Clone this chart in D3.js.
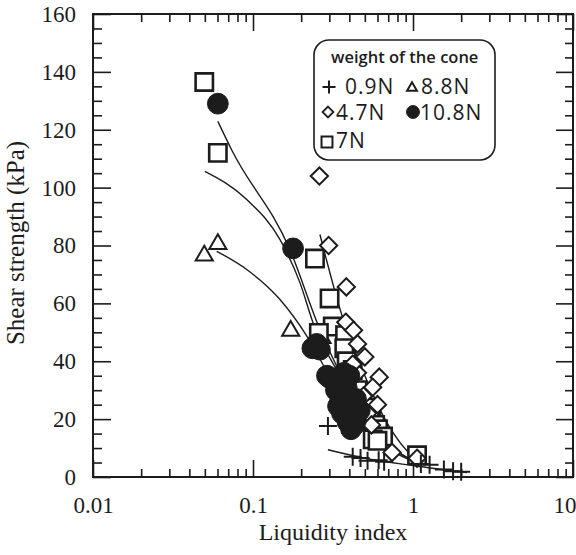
<!DOCTYPE html>
<html><head><meta charset="utf-8">
<script src="https://cdn.jsdelivr.net/npm/d3@7"></script>
<style>
body{margin:0;background:#fff;}
svg{display:block;}
</style></head>
<body>
<svg id="chart" width="576" height="555"></svg>
<script>
// ---- data (liquidity index, shear strength kPa) ----
const plus09 = [[0.294,17.6],[0.42,7.0],[0.47,6.6],[0.52,5.6],[0.61,5.8],[0.66,5.3],[1.12,4.5],[1.27,4.2],[1.56,2.6],[1.78,2.0],[2.0,1.8]];
const diamond47 = [[0.26,104],[0.297,80],[0.383,65.7],[0.38,53.5],[0.425,50.7],[0.45,46],[0.5,41.5],[0.615,34.5],[0.56,31],[0.45,36],[0.42,39],[0.49,28],[0.52,22],[0.55,18],[0.6,25],[0.74,8.5],[1.06,6.5]];
const square7 = [[0.0496,136.5],[0.0603,112],[0.244,75.5],[0.301,61.7],[0.315,52],[0.258,49.8],[0.376,49],[0.372,44.5],[0.385,40],[0.42,37],[0.45,30],[0.48,26],[0.52,24],[0.55,21.5],[0.536,19.5],[0.58,18],[0.605,16.5],[0.65,14],[0.56,13],[0.6,12.5],[1.06,7.5]];
const triangle88 = [[0.0496,76.5],[0.0603,80.5],[0.172,50.5],[0.27,48],[0.4,30],[0.5,21]];
const circle108 = [[0.0603,129],[0.178,79],[0.235,44.5],[0.25,46],[0.262,44],[0.29,35],[0.305,34],[0.316,34],[0.33,30],[0.35,26],[0.363,28],[0.38,24],[0.385,31],[0.40,22],[0.415,22.4],[0.42,20],[0.43,18],[0.44,19.5],[0.465,23],[0.36,33],[0.37,36],[0.40,35],[0.44,27],[0.36,22],[0.39,19],[0.41,16.5],[0.45,24],[0.34,24.5],[0.38,28]];

const fitCircle = [[0.0603,122.9],[0.0736,113],[0.17,78.6],[0.262,51],[0.4,30],[0.6,15],[1.0,5.5]];
const fitSquare = [[0.050,105.6],[0.0914,95.9],[0.1475,82],[0.197,67],[0.237,53.4],[0.35,35],[0.6,15],[1.1,4.5]];
const fitTriangle = [[0.0593,78],[0.0914,71.7],[0.147,61.4],[0.217,48.7],[0.3,35],[0.45,20],[0.7,10],[1.1,4.5]];
const fitDiamond = [[0.262,83.8],[0.366,54.5],[0.5,35],[0.7,18],[1.0,7],[1.2,4]];
const fitPlus = [[0.294,9.4],[0.51,6.4],[1.02,3.9],[2.18,1.5]];

const xTickValues = [0.01,0.1,1,10];
const xTickLabels = ["0.01","0.1","1","10"];
const yTickValues = [0,20,40,60,80,100,120,140,160];
const yTickLabels = ["0","20","40","60","80","100","120","140","160"];
const legendLabels = ["0.9N","8.8N","4.7N","10.8N","7N"];

// ---- layout ----
const W = 576, H = 555;
const m = {left:93, right:3, top:14, bottom:78};
const iw = W - m.left - m.right, ih = H - m.top - m.bottom;
const ink = "#1c1c1c";

const svg = d3.select("#chart");
const g = svg.append("g").attr("transform",`translate(${m.left},${m.top})`);

const x = d3.scaleLog().domain([0.01,10]).range([0,iw]);
const y = d3.scaleLinear().domain([0,160]).range([ih,0]);

const xMinor = [];
[0.01,0.1,1].forEach(d => { for(let k=2;k<=9;k++) xMinor.push(d*k); });
const yMinor = d3.range(0,161,5).filter(v => v%20!==0);

function styleAxis(sel){
  sel.select(".domain").remove();
  sel.selectAll("line").attr("stroke",ink).attr("stroke-width",1.6);
}
const serif = "\"Liberation Serif\",\"Times New Roman\",serif";

// bottom
g.append("g").attr("transform",`translate(0,${ih})`)
  .call(d3.axisBottom(x).tickValues(xMinor).tickSize(-8).tickFormat(""))
  .call(styleAxis);
g.append("g").attr("transform",`translate(0,${ih})`)
  .call(d3.axisBottom(x).tickValues(xTickValues).tickSize(-17).tickPadding(20)
      .tickFormat((d,i)=>xTickLabels[i]))
  .call(styleAxis)
  .call(s=>s.selectAll("text").attr("fill",ink).style("font-family",serif).style("font-size","23px"))
  .call(s=>s.selectAll(".tick").filter(d=>d===10).select("text").attr("text-anchor","end").attr("dx",3));
// top
g.append("g")
  .call(d3.axisTop(x).tickValues(xMinor).tickSize(-8).tickFormat(""))
  .call(styleAxis);
g.append("g")
  .call(d3.axisTop(x).tickValues(xTickValues).tickSize(-17).tickFormat(""))
  .call(styleAxis);
// left
g.append("g")
  .call(d3.axisLeft(y).tickValues(yMinor).tickSize(-9).tickFormat(""))
  .call(styleAxis);
g.append("g")
  .call(d3.axisLeft(y).tickValues(yTickValues).tickSize(-18).tickPadding(17)
      .tickFormat((d,i)=>yTickLabels[i]))
  .call(styleAxis)
  .call(s=>s.selectAll("text").attr("fill",ink).style("font-family",serif).style("font-size","23px"));
// right
g.append("g").attr("transform",`translate(${iw},0)`)
  .call(d3.axisRight(y).tickValues(yMinor).tickSize(-8).tickFormat(""))
  .call(styleAxis);
g.append("g").attr("transform",`translate(${iw},0)`)
  .call(d3.axisRight(y).tickValues(yTickValues).tickSize(-17).tickFormat(""))
  .call(styleAxis);

// frame
g.append("rect").attr("x",0).attr("y",0).attr("width",iw).attr("height",ih)
  .attr("fill","none").attr("stroke",ink).attr("stroke-width",2);

// axis titles
svg.append("text").attr("x",333).attr("y",540)
  .attr("text-anchor","middle").attr("fill",ink)
  .style("font-family",serif).style("font-size","24px").text("Liquidity index");
svg.append("text").attr("transform",`translate(24,243) rotate(-90)`)
  .attr("text-anchor","middle").attr("fill",ink)
  .style("font-family",serif).style("font-size","25px").text("Shear strength (kPa)");

// fitted curves
const line = d3.line().x(d=>x(d[0])).y(d=>y(d[1])).curve(d3.curveMonotoneX);
[fitCircle,fitSquare,fitTriangle,fitDiamond,fitPlus].forEach(arr=>{
  g.append("path").datum(arr).attr("d",line).attr("fill","none")
   .attr("stroke",ink).attr("stroke-width",1.4);
});

// markers
const symSquare = d3.symbol().type(d3.symbolSquare).size(300);
const symDiamond = d3.symbol().type(d3.symbolDiamond2).size(190);
const symTri = d3.symbol().type(d3.symbolTriangle2).size(210);
const symCircle = d3.symbol().type(d3.symbolCircle).size(340);
function plusPath(s){ return `M${-s},0H${s}M0,${-s}V${s}`; }

function drawPts(data, path, fill, sw){
  g.append("g").selectAll("path").data(data).join("path")
    .attr("transform",d=>`translate(${x(d[0])},${y(d[1])})`)
    .attr("d",path).attr("fill",fill).attr("stroke",ink).attr("stroke-width",sw);
}
drawPts(triangle88, symTri(), "white", 2);
drawPts(square7, symSquare(), "white", 2.6);
drawPts(diamond47, symDiamond(), "white", 2);
drawPts(circle108, symCircle(), ink, 1);
drawPts(plus09, plusPath(9), "none", 2);

// legend
const lg = svg.append("g");
lg.append("rect").attr("x",314).attr("y",40).attr("width",181).attr("height",120)
  .attr("rx",15).attr("fill","white").attr("stroke",ink).attr("stroke-width",1.6);
const sans = "\"Open Sans\",\"Noto Sans\",sans-serif";
lg.append("text").attr("x",331).attr("y",63).attr("fill",ink)
  .style("font-family",sans).style("font-size","16.5px").style("font-weight","600")
  .text("weight of the cone");
const legendItems = [
  {p:plusPath(6.5), fill:"none", sw:2, mx:329, my:87, tx:345, ty:94},
  {p:d3.symbol().type(d3.symbolTriangle2).size(70)(), fill:"white", sw:2, mx:412, my:88, tx:421, ty:94},
  {p:d3.symbol().type(d3.symbolDiamond2).size(75)(), fill:"white", sw:1.8, mx:328, my:112, tx:336, ty:120},
  {p:d3.symbol().type(d3.symbolCircle).size(130)(), fill:ink, sw:1, mx:413, my:112, tx:420, ty:120},
  {p:d3.symbol().type(d3.symbolSquare).size(120)(), fill:"white", sw:2, mx:327, my:142, tx:336, ty:148}
];
legendItems.forEach((it,i)=>{
  lg.append("path").attr("d",it.p).attr("transform",`translate(${it.mx},${it.my})`)
    .attr("fill",it.fill).attr("stroke",ink).attr("stroke-width",it.sw);
  lg.append("text").attr("x",it.tx).attr("y",it.ty).attr("fill",ink)
    .style("font-family",sans).style("font-size","21px").style("letter-spacing","1px")
    .text(legendLabels[i]);
});
</script>
</body></html>
